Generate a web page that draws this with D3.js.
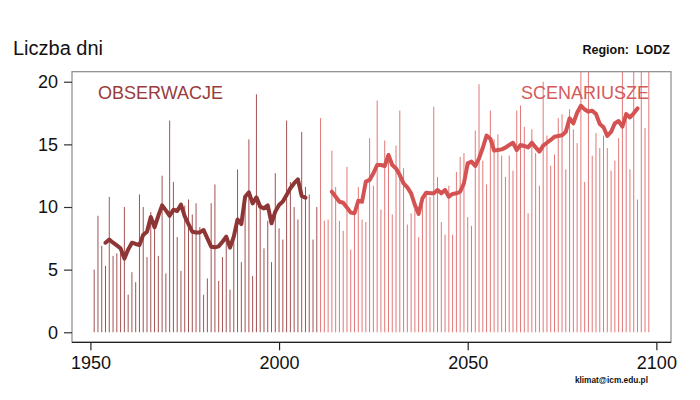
<!DOCTYPE html>
<html><head><meta charset="utf-8">
<script src="https://cdn.jsdelivr.net/npm/d3@7"></script>
<style>
body{margin:0;background:#fff}
svg{display:block}
text{font-family:"Liberation Sans",Arial,Helvetica,sans-serif}
</style>
</head><body>
<svg id="chart" width="700" height="400"></svg>
<script>
// ---- data ----
const obsStart = 1951;
const obsValues = [5.0,9.3,6.9,5.3,10.8,6.1,6.3,6.5,10.0,3.0,
  4.8,4.0,11.0,10.0,6.0,9.6,8.9,6.1,12.5,4.7,
  16.9,12.0,7.6,4.9,10.1,10.6,9.4,10.3,8.4,3.0,
  4.3,10.3,11.8,4.1,6.0,7.5,3.4,7.6,13.0,5.6,
  10.4,15.4,4.5,19.0,10.3,6.7,8.9,5.6,12.7,8.3,
  7.4,16.9,12.0,10.0,9.0,16.0,11.6,11.0,7.4,10.0];
const scenStart = 2011;
const scenValues = [17.1,8.9,9.0,14.5,11.6,8.9,8.1,13.2,6.6,9.6,
  11.6,9.0,8.8,15.5,11.7,18.5,9.8,15.3,13.8,9.4,
  14.9,17.7,13.1,8.6,9.5,9.8,7.6,10.3,10.9,10.8,
  18.0,12.4,8.8,7.8,11.7,7.8,12.8,14.0,14.3,9.2,
  8.5,16.1,19.8,13.7,11.8,17.7,15.4,15.8,14.1,12.4,
  14.1,12.9,17.7,18.1,16.4,9.5,16.2,14.3,11.7,20.0,
  15.7,13.3,14.2,17.1,17.4,13.0,17.8,16.2,15.1,25.0,
  12.0,25.0,14.1,15.9,14.7,15.7,14.7,12.9,13.7,15.5,
  24.0,17.6,13.0,23.0,10.6,22.0,16.3,22.0];
const obsMAStart = 1954;
const obsMA = [7.15,7.4,7.15,6.93,6.7,5.88,6.6,7.15,7.05,6.97,
  7.78,8.02,9.2,8.38,9.3,10.13,9.73,9.3,9.78,9.68,
  10.2,9.25,8.64,8.03,7.97,7.97,8.16,7.5,6.83,6.78,
  6.86,7.23,7.63,6.75,7.63,9.0,8.64,10.82,11.17,10.29,
  10.77,10.03,9.89,10.13,8.7,9.63,10.16,10.43,10.96,11.5,
  11.9,12.2,10.88,10.75];
const scenMAStart = 2014;
const scenMA = [11.22,10.82,10.42,10.34,9.95,9.55,9.5,10.5,10.42,12.03,
  12.16,12.69,13.35,13.35,13.27,14.15,13.35,13.08,12.55,11.89,
  11.57,11.09,10.16,9.45,10.69,11.14,11.09,11.09,11.36,11.09,
  11.36,10.82,11.04,11.09,11.22,11.9,13.48,13.62,13.27,13.88,
  14.73,15.7,15.45,14.5,14.55,14.6,14.74,14.95,15.13,14.55,
  14.95,14.87,14.76,15.13,14.76,14.42,14.9,15.13,15.35,15.61,
  15.67,15.72,16.0,17.08,16.68,17.53,18.08,17.79,17.61,17.69,
  17.42,16.62,16.36,15.67,16.0,16.68,16.86,16.41,17.42,17.15,
  17.48,17.87];
const xTickValues = [1950, 2000, 2050, 2100];
const yTickValues = [0, 5, 10, 15, 20];
const titleText = "Liczba dni";
const regionText = "Region:  LODZ";
const creditText = "klimat@icm.edu.pl";
const obsLabel = "OBSERWACJE";
const scenLabel = "SCENARIUSZE";

// ---- layout ----
const svg = d3.select("#chart");
const L = 72, R = 671, T = 71.7, B = 342.3;
const x = d3.scaleLinear().domain([1945.12, 2103.88]).range([L, R]);
const y = d3.scaleLinear().domain([-0.8, 20.8]).range([B, T]);

const col = {
  obsBar: "#a35252", scenBar: "#e27878",
  obsLine: "#8e3535", scenLine: "#d45252",
  obsText: "#9a3c3c", scenText: "#d55a5a"
};

svg.append("defs").append("clipPath").attr("id", "plotclip")
  .append("rect").attr("x", L).attr("y", T).attr("width", R - L).attr("height", B - T);

const toPts = (start, arr) => arr.map((v, i) => ({year: start + i, v}));
const obsBars = toPts(obsStart, obsValues);
const scenBars = toPts(scenStart, scenValues);

const plot = svg.append("g").attr("clip-path", "url(#plotclip)");

plot.append("g").selectAll("line").data(obsBars).join("line")
  .attr("x1", d => x(d.year)).attr("x2", d => x(d.year))
  .attr("y1", y(0)).attr("y2", d => y(d.v))
  .attr("stroke", col.obsBar).attr("stroke-width", 1);

plot.append("g").selectAll("line").data(scenBars).join("line")
  .attr("x1", d => x(d.year)).attr("x2", d => x(d.year))
  .attr("y1", y(0)).attr("y2", d => y(d.v))
  .attr("stroke", col.scenBar).attr("stroke-width", 1);

const line = d3.line().x(d => x(d.year)).y(d => y(d.v));
plot.append("path").datum(toPts(obsMAStart, obsMA))
  .attr("d", line).attr("fill", "none").attr("stroke", col.obsLine)
  .attr("stroke-width", 4).attr("stroke-linejoin", "round").attr("stroke-linecap", "round");
plot.append("path").datum(toPts(scenMAStart, scenMA))
  .attr("d", line).attr("fill", "none").attr("stroke", col.scenLine)
  .attr("stroke-width", 4).attr("stroke-linejoin", "round").attr("stroke-linecap", "round");

// box
svg.append("rect").attr("x", L).attr("y", T).attr("width", R - L).attr("height", B - T)
  .attr("fill", "none").attr("stroke", "#8a8a8a").attr("stroke-width", 1.2);
svg.append("line").attr("x1", L).attr("x2", R).attr("y1", B).attr("y2", B)
  .attr("stroke", "#222").attr("stroke-width", 1.2);

// axes
const xAxis = svg.append("g").attr("transform", `translate(0,${B})`)
  .call(d3.axisBottom(x).tickValues(xTickValues).tickFormat(d3.format("d")).tickSize(8).tickPadding(6));
xAxis.select(".domain").remove();
xAxis.selectAll("line").attr("stroke", "#222").attr("stroke-width", 1.2);
xAxis.selectAll("text").attr("font-size", 18).attr("fill", "#111")
  .attr("font-family", "'Liberation Sans',Arial,sans-serif");

const yAxis = svg.append("g").attr("transform", `translate(${L},0)`)
  .call(d3.axisLeft(y).tickValues(yTickValues).tickSize(8).tickPadding(6));
yAxis.select(".domain").remove();
yAxis.selectAll("line").attr("stroke", "#333").attr("stroke-width", 1.2);
yAxis.selectAll("text").attr("font-size", 18).attr("fill", "#111")
  .attr("font-family", "'Liberation Sans',Arial,sans-serif");

// texts
svg.append("text").attr("x", 13).attr("y", 55).attr("font-size", 20).attr("fill", "#111").text(titleText);
svg.append("text").attr("x", 670).attr("y", 54).attr("text-anchor", "end")
  .attr("font-size", 12.5).attr("font-weight", "bold").attr("fill", "#111")
  .style("white-space", "pre").attr("xml:space", "preserve").text(regionText);
svg.append("text").attr("x", 648).attr("y", 383).attr("text-anchor", "end")
  .attr("font-size", 8.3).attr("font-weight", "bold").attr("fill", "#111").text(creditText);
svg.append("text").attr("x", 98).attr("y", 98.5).attr("font-size", 18)
  .attr("fill", col.obsText).text(obsLabel);
svg.append("text").attr("x", 649).attr("y", 98.5).attr("text-anchor", "end").attr("font-size", 18)
  .attr("fill", col.scenText).text(scenLabel);
</script>
</body></html>
